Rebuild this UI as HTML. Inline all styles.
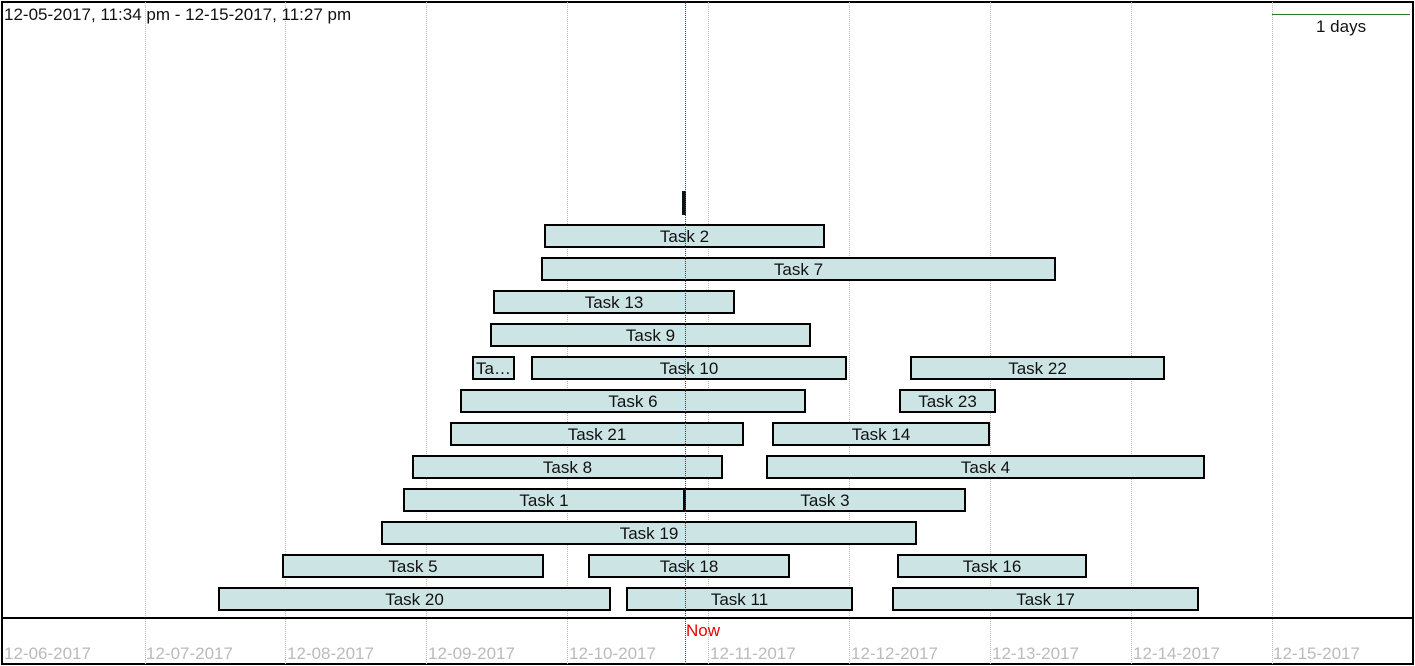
<!DOCTYPE html>
<html><head><style>
body{margin:0;width:1415px;height:666px;background:#fff;position:relative;overflow:hidden;font-family:"Liberation Sans",sans-serif}
.a{position:absolute}
.g{position:absolute;top:2px;height:662px;border-left:1px dotted #bbb}
.b{position:absolute;height:20px;background:#cce4e4;border:2px solid #000;font-size:17px;line-height:22px;text-align:center;color:#111;white-space:nowrap;overflow:hidden}
.d{position:absolute;top:644px;font-size:17px;color:#bbb}
</style></head><body>
<div class="a" style="left:1px;top:1px;width:1409px;height:660px;border:2px solid #000"></div>
<div class="g" style="left:145px"></div><div class="g" style="left:285px"></div><div class="g" style="left:426px"></div><div class="g" style="left:567px"></div><div class="g" style="left:708px"></div><div class="g" style="left:849px"></div><div class="g" style="left:990px"></div><div class="g" style="left:1131px"></div><div class="g" style="left:1272px"></div>
<div class="a" style="left:2px;top:617px;width:1410px;height:2px;background:#000"></div>
<div class="a" style="left:4px;top:5px;font-size:17px;color:#111">12-05-2017, 11:34 pm - 12-15-2017, 11:27 pm</div>
<div class="a" style="left:1272px;top:14px;width:138px;height:1px;background:#2a7a2a"></div>
<div class="a" style="left:1316px;top:17px;font-size:17px;color:#111">1 days</div>
<div class="a" style="left:682px;top:191px;width:4px;height:24px;background:#111"></div>
<div class="b" style="left:544px;top:224px;width:277px">Task 2</div>
<div class="b" style="left:541px;top:257px;width:511px">Task 7</div>
<div class="b" style="left:493px;top:290px;width:238px">Task 13</div>
<div class="b" style="left:490px;top:323px;width:317px">Task 9</div>
<div class="b" style="left:472px;top:356px;width:39px">Ta…</div>
<div class="b" style="left:531px;top:356px;width:312px">Task 10</div>
<div class="b" style="left:910px;top:356px;width:251px">Task 22</div>
<div class="b" style="left:460px;top:389px;width:342px">Task 6</div>
<div class="b" style="left:899px;top:389px;width:93px">Task 23</div>
<div class="b" style="left:450px;top:422px;width:290px">Task 21</div>
<div class="b" style="left:772px;top:422px;width:214px">Task 14</div>
<div class="b" style="left:412px;top:455px;width:307px">Task 8</div>
<div class="b" style="left:766px;top:455px;width:435px">Task 4</div>
<div class="b" style="left:403px;top:488px;width:278px">Task 1</div>
<div class="b" style="left:684px;top:488px;width:278px">Task 3</div>
<div class="b" style="left:381px;top:521px;width:532px">Task 19</div>
<div class="b" style="left:282px;top:554px;width:258px">Task 5</div>
<div class="b" style="left:588px;top:554px;width:198px">Task 18</div>
<div class="b" style="left:897px;top:554px;width:186px">Task 16</div>
<div class="b" style="left:218px;top:587px;width:389px">Task 20</div>
<div class="b" style="left:626px;top:587px;width:223px">Task 11</div>
<div class="b" style="left:892px;top:587px;width:303px">Task 17</div>
<div class="a" style="left:685px;top:2px;height:662px;border-left:1px dotted #c00"></div>
<div class="a" style="left:686px;top:621px;font-size:17px;color:#e00">Now</div>
<div class="d" style="left:4px">12-06-2017</div><div class="d" style="left:146px">12-07-2017</div><div class="d" style="left:287px">12-08-2017</div><div class="d" style="left:428px">12-09-2017</div><div class="d" style="left:569px">12-10-2017</div><div class="d" style="left:710px">12-11-2017</div><div class="d" style="left:851px">12-12-2017</div><div class="d" style="left:992px">12-13-2017</div><div class="d" style="left:1133px">12-14-2017</div><div class="d" style="left:1273px">12-15-2017</div>
</body></html>
